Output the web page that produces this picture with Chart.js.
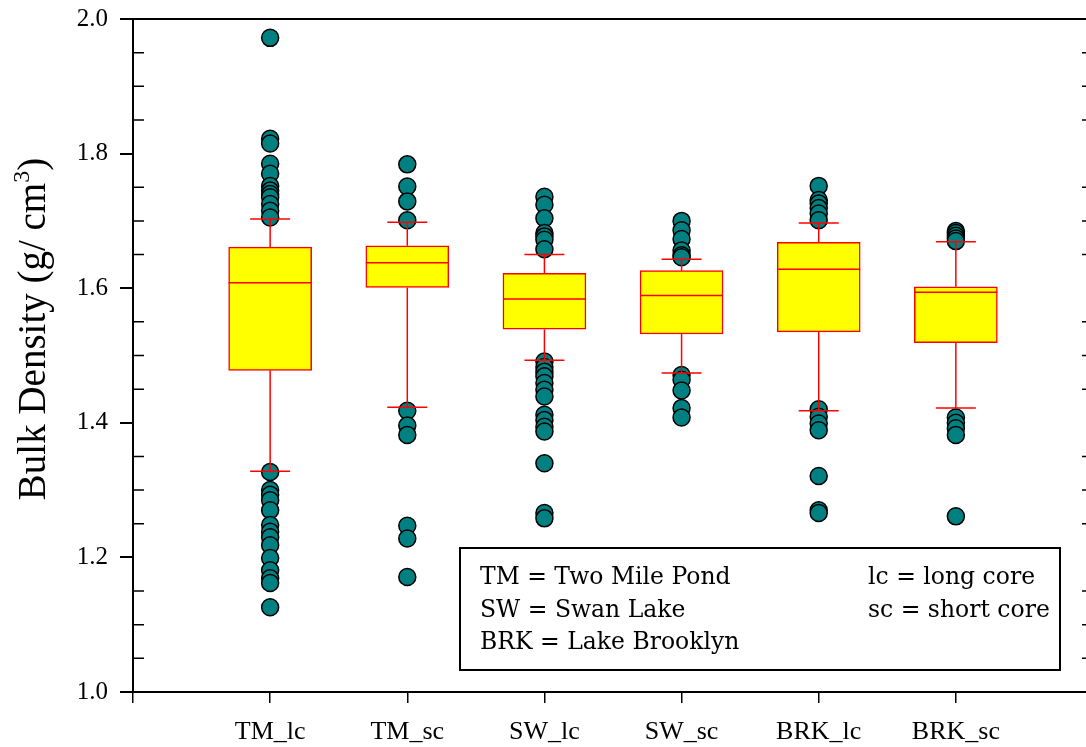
<!DOCTYPE html>
<html>
<head>
<meta charset="utf-8">
<title>Bulk Density</title>
<script src="https://cdn.jsdelivr.net/npm/chart.js@4.4.0/dist/chart.umd.min.js"></script>
<style>
  html, body { margin: 0; padding: 0; background: #fff; overflow: hidden; }
  #wrap { width: 1103px; height: 747px; }
</style>
</head>
<body>
<div id="wrap"><canvas id="boxChart" width="1103" height="747"></canvas></div>
<script>
// data
const categories = ['TM_lc', 'TM_sc', 'SW_lc', 'SW_sc', 'BRK_lc', 'BRK_sc'];
const q1 = [1.478, 1.601, 1.539, 1.532, 1.535, 1.519];
const median = [1.608, 1.638, 1.584, 1.589, 1.628, 1.594];
const q3 = [1.661, 1.663, 1.622, 1.626, 1.668, 1.602];
const whiskerLow = [1.328, 1.423, 1.493, 1.474, 1.418, 1.422];
const whiskerHigh = [1.703, 1.698, 1.650, 1.643, 1.697, 1.669];

const outTM_lc = [1.972, 1.822, 1.815, 1.785, 1.770, 1.752, 1.745, 1.740, 1.735, 1.725, 1.715, 1.705,
                  1.327, 1.300, 1.293, 1.285, 1.270, 1.248, 1.238, 1.230, 1.218, 1.199, 1.181, 1.169, 1.162, 1.126];
const outTM_sc = [1.784, 1.751, 1.729, 1.701, 1.418, 1.396, 1.382, 1.247, 1.228, 1.171];
const outSW_lc = [1.736, 1.724, 1.704, 1.682, 1.677, 1.672, 1.658,
                  1.491, 1.483, 1.476, 1.469, 1.459, 1.449, 1.439, 1.412, 1.404, 1.394, 1.387, 1.340, 1.266, 1.258];
const outSW_sc = [1.700, 1.686, 1.673, 1.656, 1.649, 1.646, 1.471, 1.464, 1.448, 1.422, 1.408];
const outBRK_lc = [1.752, 1.731, 1.726, 1.719, 1.711, 1.701, 1.420, 1.409, 1.399, 1.389, 1.321, 1.270, 1.266];
const outBRK_sc = [1.685, 1.682, 1.678, 1.674, 1.670, 1.408, 1.400, 1.392, 1.382, 1.261];
const outliers = [outTM_lc, outTM_sc, outSW_lc, outSW_sc, outBRK_lc, outBRK_sc];

const yTicks = [1.0, 1.2, 1.4, 1.6, 1.8, 2.0];
const legendLeft = ['TM = Two Mile Pond', 'SW = Swan Lake', 'BRK = Lake Brooklyn'];
const legendRight = ['lc = long core', 'sc = short core'];

const SERIF = '"Liberation Serif", "Times New Roman", Times, serif';
const BOX_W = 83;
const CAP_W = 40;

// whiskers, caps and medians on top of the boxes
const boxPlugin = {
    id: 'boxParts',
    afterDatasetsDraw(chart) {
        var ctx = chart.ctx, x = chart.scales.x, y = chart.scales.y;
        ctx.save();
        ctx.strokeStyle = '#ff0000';
        ctx.lineWidth = 1.5;
        var seg = function(x1, y1, x2, y2) {
            ctx.beginPath(); ctx.moveTo(x1, y1); ctx.lineTo(x2, y2); ctx.stroke();
        };
        categories.forEach(function(c, i) {
            var cx = x.getPixelForValue(i + 1);
            var yHi = y.getPixelForValue(whiskerHigh[i]), yLo = y.getPixelForValue(whiskerLow[i]);
            seg(cx, y.getPixelForValue(q3[i]), cx, yHi);
            seg(cx, y.getPixelForValue(q1[i]), cx, yLo);
            seg(cx - CAP_W / 2, yHi, cx + CAP_W / 2, yHi);
            seg(cx - CAP_W / 2, yLo, cx + CAP_W / 2, yLo);
            var ym = y.getPixelForValue(median[i]);
            seg(cx - BOX_W / 2, ym, cx + BOX_W / 2, ym);
        });
        ctx.restore();
    }
};

// frame: top/right lines, inward minor ticks, y title, legend box
const framePlugin = {
    id: 'frame',
    afterDraw(chart) {
        var ctx = chart.ctx, a = chart.chartArea, y = chart.scales.y;
        ctx.save();
        ctx.strokeStyle = '#000';
        ctx.lineWidth = 2;
        ctx.beginPath();
        ctx.moveTo(a.left, a.top); ctx.lineTo(a.right, a.top); ctx.lineTo(a.right, a.bottom);
        ctx.stroke();

        ctx.lineWidth = 1.5;
        for (var k = 1; k < 20; k++) {
            if (k % 4 === 0) continue;
            var py = y.getPixelForValue(1 + k * 0.05);
            ctx.beginPath();
            ctx.moveTo(a.left, py); ctx.lineTo(a.left + 11, py);
            ctx.moveTo(a.right, py); ctx.lineTo(a.right - 11, py);
            ctx.stroke();
        }

        // y axis title with a real superscript
        ctx.fillStyle = '#000';
        ctx.textBaseline = 'alphabetic';
        var big = '39px ' + SERIF, small = '24px ' + SERIF;
        var p1 = 'Bulk Density (g/ cm', p2 = '3', p3 = ')';
        ctx.font = big; var w1 = ctx.measureText(p1).width, w3 = ctx.measureText(p3).width;
        ctx.font = small; var w2 = ctx.measureText(p2).width;
        var total = w1 + w2 + w3;
        ctx.translate(45, 329);
        ctx.rotate(-Math.PI / 2);
        var sx = -total / 2;
        ctx.font = big; ctx.fillText(p1, sx, 0);
        ctx.font = small; ctx.fillText(p2, sx + w1, -16);
        ctx.font = big; ctx.fillText(p3, sx + w1 + w2, 0);
        ctx.setTransform(1, 0, 0, 1, 0, 0);

        ctx.lineWidth = 2;
        ctx.strokeRect(460, 548, 600, 122);
        ctx.font = '23.5px "DejaVu Serif"';
        ctx.textBaseline = 'middle';
        legendLeft.forEach(function(t, i) { ctx.fillText(t, 480, 578 + i * 32.5); });
        legendRight.forEach(function(t, i) { ctx.fillText(t, 868, 578 + i * 32.5); });
        ctx.restore();
    }
};

var boxData = categories.map(function(c, i) { return { x: i + 1, y: [q1[i], q3[i]] }; });
var pointData = [];
outliers.forEach(function(list, i) {
    list.forEach(function(v) { pointData.push({ x: i + 1, y: v }); });
});

new Chart(document.getElementById('boxChart').getContext('2d'), {
    type: 'bar',
    data: {
        datasets: [
            { type: 'scatter', data: pointData, pointRadius: 8.5, pointBackgroundColor: '#008080',
              pointBorderColor: '#000', pointBorderWidth: 1.5, order: 0 },
            { type: 'bar', data: boxData, backgroundColor: '#ffff00', borderColor: '#ff0000',
              borderWidth: 1.5, borderSkipped: false, barThickness: BOX_W, grouped: false, order: 1 }
        ]
    },
    options: {
        responsive: false,
        animation: false,
        layout: { padding: { left: 0, top: 19, right: 6, bottom: 0 } },
        plugins: { legend: { display: false }, tooltip: { enabled: false } },
        scales: {
            x: {
                type: 'linear', min: 0, max: 7, offset: false,
                afterFit: function(s) { s.height = 55; s.paddingLeft = 0; s.paddingRight = 0; },
                afterBuildTicks: function(s) { s.ticks = [0, 1, 2, 3, 4, 5, 6, 7].map(function(v) { return { value: v }; }); },
                border: { display: true, color: '#000', width: 2 },
                grid: { drawOnChartArea: false, offset: false, tickLength: 11, color: '#000', lineWidth: 1.5 },
                ticks: {
                    autoSkip: false, maxRotation: 0, padding: 14, color: '#000',
                    font: { family: SERIF, size: 26 },
                    callback: function(v) { return (v >= 1 && v <= categories.length) ? categories[v - 1] : ''; }
                }
            },
            y: {
                min: 1.0, max: 2.0,
                afterFit: function(s) { s.width = 133; s.paddingTop = 0; s.paddingBottom = 0; },
                afterBuildTicks: function(s) { s.ticks = yTicks.map(function(v) { return { value: v }; }); },
                border: { display: true, color: '#000', width: 2 },
                grid: { drawOnChartArea: false, tickLength: 13, color: '#000', lineWidth: 2 },
                ticks: {
                    padding: 12, color: '#000',
                    font: { family: SERIF, size: 25 },
                    callback: function(v) { return Number(v).toFixed(1); }
                }
            }
        }
    },
    plugins: [boxPlugin, framePlugin]
});
</script>
</body>
</html>
